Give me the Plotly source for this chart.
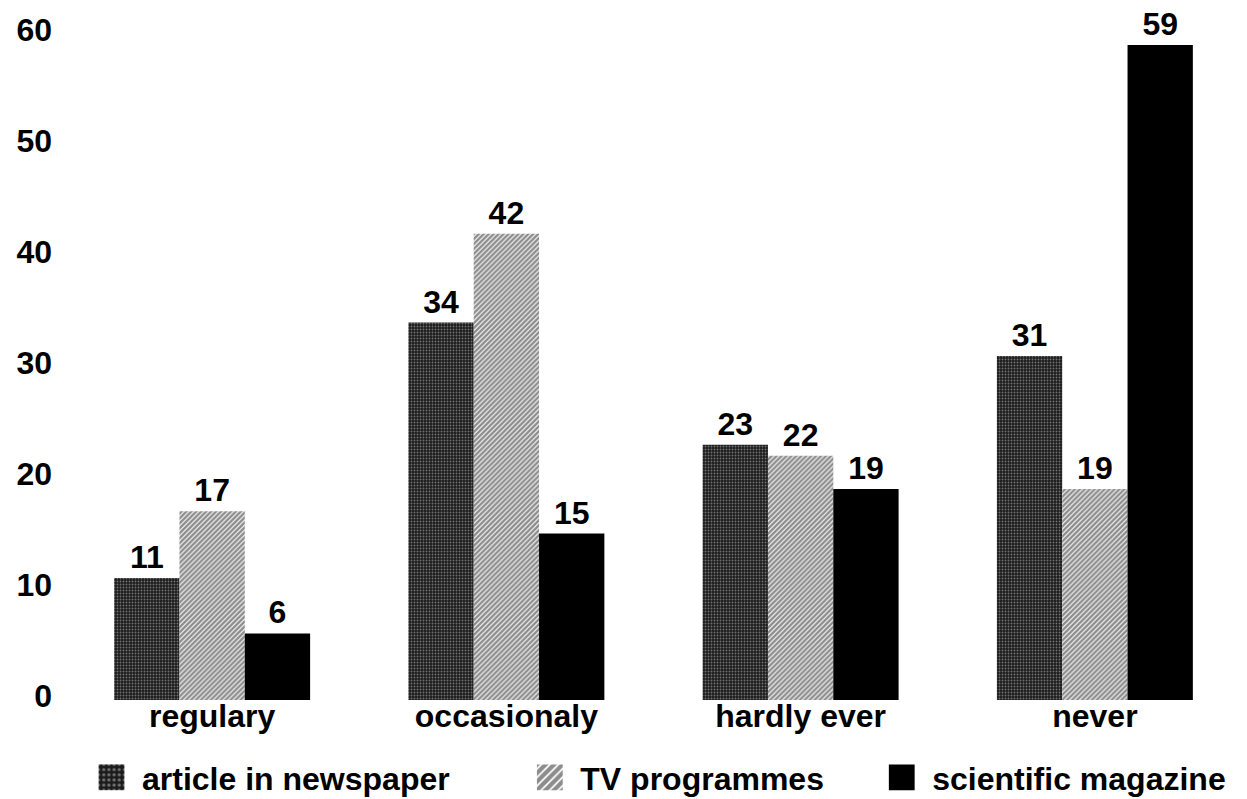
import plotly.graph_objects as go

categories = ["regulary", "occasionaly", "hardly ever", "never"]
newspaper = [11, 34, 23, 31]
tv = [17, 42, 22, 19]
magazine = [6, 15, 19, 59]
series_names = ["article in newspaper", "TV programmes", "scientific magazine"]
y_ticks = [0, 10, 20, 30, 40, 50, 60]

FONT = "Liberation Sans, Arial, Helvetica, sans-serif"
lbl_font = dict(family=FONT, size=32, color="black", weight="bold")

fig = go.Figure()
fig.add_trace(go.Bar(
    x=categories, y=newspaper, name=series_names[0], legend="legend",
    marker=dict(color="#1c1c1c", line=dict(width=0),
                pattern=dict(shape=".", fgcolor="#c8c8c8", size=3, solidity=0.3)),
    text=newspaper, textposition="outside", textfont=lbl_font, cliponaxis=False,
    constraintext="none", showlegend=True,
))
fig.add_trace(go.Bar(
    x=categories, y=tv, name=series_names[1], legend="legend2",
    marker=dict(color="white", line=dict(width=0),
                pattern=dict(shape="/", fgcolor="#1a1a1a", bgcolor="#ffffff", size=3.5, solidity=0.7)),
    text=tv, textposition="outside", textfont=lbl_font, cliponaxis=False,
    constraintext="none", showlegend=True,
))
fig.add_trace(go.Bar(
    x=categories, y=magazine, name=series_names[2], legend="legend3",
    marker=dict(color="black", line=dict(width=0)),
    text=magazine, textposition="outside", textfont=lbl_font, cliponaxis=False,
    constraintext="none", showlegend=True,
))

leg_common = dict(orientation="h", yanchor="bottom", y=-105 / 666, xanchor="left",
                  font=dict(family=FONT, size=32, color="black", weight="bold"),
                  bgcolor="rgba(0,0,0,0)", borderwidth=0, itemwidth=51, visible=True)

fig.update_layout(
    width=1247, height=799,
    margin=dict(l=65, r=5, t=34, b=99, autoexpand=False),
    paper_bgcolor="white", plot_bgcolor="white",
    showlegend=True,
    barmode="group", bargap=0.334, bargroupgap=0,
    font=dict(family=FONT, size=32, color="black", weight="bold"),
    xaxis=dict(showline=False, showgrid=False, zeroline=False, ticks="",
               automargin=False,
               tickfont=dict(family=FONT, size=32, color="black", weight="bold"),
               ticklabelstandoff=-6),
    yaxis=dict(range=[0, 60], tickvals=y_ticks, showline=False, showgrid=False,
               zeroline=False, ticks="", automargin=False,
               tickfont=dict(family=FONT, size=32, color="black", weight="bold"),
               ticklabelstandoff=12, ticklabelshift=-4),
    legend=dict(x=0.0136, **leg_common),
    legend2=dict(x=0.386, **leg_common),
    legend3=dict(x=0.685, **leg_common),
)

post = """
(function(){
  document.body.style.margin = '0';
  document.body.style.overflow = 'hidden';
  var gd = document.getElementById('{plot_id}');
  function fix(){
    gd.querySelectorAll('.legendpoints path').forEach(function(p){
      var t0 = p.getAttribute('data-t0');
      if (t0 === null) { t0 = p.getAttribute('transform') || ''; p.setAttribute('data-t0', t0); }
      p.setAttribute('transform', t0 + ' scale(2.15)');
    });
  }
  fix();
  if (gd.on) gd.on('plotly_afterplot', function(){
    gd.querySelectorAll('.legendpoints path').forEach(function(p){ p.removeAttribute('data-t0'); });
    fix();
  });
  setTimeout(fix, 50); setTimeout(fix, 300);
})();
"""
fig.write_html("out.html", post_script=post, config={"displayModeBar": False})
